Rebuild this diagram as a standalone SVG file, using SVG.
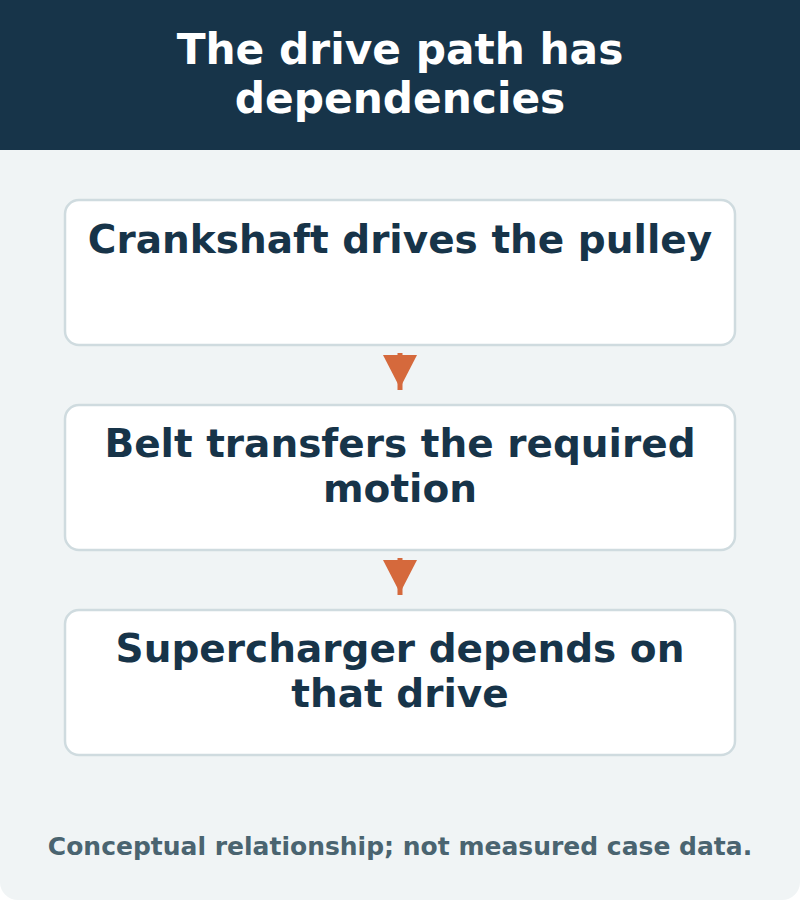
<svg xmlns="http://www.w3.org/2000/svg" width="800" height="900" viewBox="0 0 800 900">
<style>
.node rect{fill:#ffffff;stroke:#cfdbdf;stroke-width:2.5}
.nt{font-family:"DejaVu Sans",sans-serif;font-weight:bold;font-size:39px;fill:#173449;text-anchor:middle}
.title{font-family:"DejaVu Sans",sans-serif;font-weight:bold;font-size:42.3px;fill:#ffffff;text-anchor:middle}
.foot{font-family:"DejaVu Sans",sans-serif;font-weight:bold;font-size:25px;fill:#4a6470;text-anchor:middle}
.conn line{stroke:#d5693c;stroke-width:5}
.conn polygon{fill:#d5693c}
</style>
<rect x="0" y="0" width="800" height="900" rx="18" fill="#f0f4f5"/>
<rect x="0" y="0" width="800" height="150" fill="#173449"/>
<text class="title" x="400" y="64">The drive path has</text>
<text class="title" x="400" y="113">dependencies</text>
<g id="node1" class="node">
<rect x="65" y="200" width="670" height="145" rx="14"/>
<text class="nt" x="400" y="253">Crankshaft drives the pulley</text>
</g>
<g id="node2" class="node">
<rect x="65" y="405" width="670" height="145" rx="14"/>
<text class="nt" x="400" y="457">Belt transfers the required</text>
<text class="nt" x="400" y="502">motion</text>
</g>
<g id="node3" class="node">
<rect x="65" y="610" width="670" height="145" rx="14"/>
<text class="nt" x="400" y="662">Supercharger depends on</text>
<text class="nt" x="400" y="707">that drive</text>
</g>
<g id="connectors" class="conn">
<line x1="400" y1="353" x2="400" y2="390"/>
<polygon points="383,355 417,355 400,388"/>
<line x1="400" y1="558" x2="400" y2="595"/>
<polygon points="383,560 417,560 400,593"/>
</g>
<text class="foot" x="400" y="855">Conceptual relationship; not measured case data.</text>
</svg>
